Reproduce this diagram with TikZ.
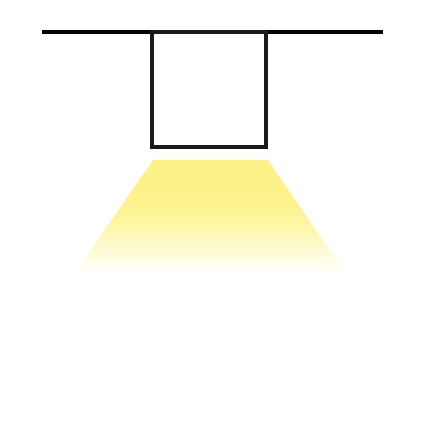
\documentclass[tikz,border=0pt]{standalone}
\usepackage{xcolor}
\usepackage{tikz}
\definecolor{beamyellow}{RGB}{253,242,135}
\definecolor{lampline}{RGB}{26,26,26}
\pgfdeclareverticalshading{beamfade}{100bp}{color(0bp)=(white); color(25bp)=(white); color(35bp)=(beamyellow!35); color(50bp)=(beamyellow!85); color(62bp)=(beamyellow); color(100bp)=(beamyellow)}

\begin{document}
\begin{tikzpicture}[x=1pt,y=-1pt]
	\tikzstyle{rail}=[draw=black, line width=4pt]
	\tikzstyle{lamp}=[draw=lampline, line width=4pt, fill=white]
	\useasboundingbox (0,0) rectangle (426,426);
	% light beam
	\shade[shading=beamfade] (153,160) -- (268,160) -- (345,273) -- (75,273) -- cycle;
	% ceiling rail and lamp
	\draw[rail] (42,32) -- (383,32);
	\draw[lamp] (152,32) rectangle (266,147);
\end{tikzpicture}
\end{document}
